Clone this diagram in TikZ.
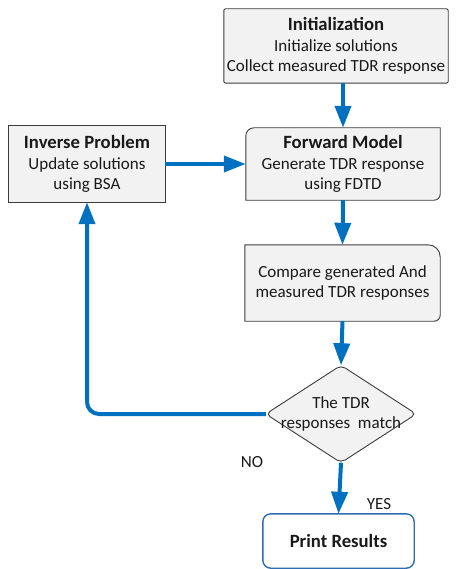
\documentclass[tikz,border=0pt]{standalone}
\usepackage{fontspec}
\setmainfont{Carlito}
\usetikzlibrary{arrows.meta,backgrounds,calc}

\definecolor{boxfill}{HTML}{F2F2F2}
\definecolor{boxline}{HTML}{3B3B3B}
\definecolor{flowblue}{HTML}{0070C0}
\definecolor{endblue}{HTML}{2E6DB4}

\newcommand{\ttlfont}{\fontsize{18.7}{20.5}\selectfont\bfseries}
\newcommand{\bdyfont}{\fontsize{17}{20}\selectfont}

\begin{document}
\begin{tikzpicture}[x=1pt,y=-1pt,
  box/.style={inner sep=0pt, align=center, font=\bdyfont, text=black!90},
  outline/.style={draw=boxline, fill=boxfill, line width=0.9pt},
  flow/.style={draw=flowblue, line width=4pt, -{Triangle[length=22pt,width=16pt]}},
  lbl/.style={font=\bdyfont, inner sep=0pt, text=black!90}
]
\useasboundingbox (0,0) rectangle (455,569);

% process steps
\node[box, minimum width=224pt, minimum height=74pt] (init) at (336,46)
  {{\ttlfont Initialization}\\[1pt]Initialize solutions\\Collect measured TDR response};
\node[box, minimum width=156pt, minimum height=76pt] (inv) at (87,164)
  {{\ttlfont Inverse Problem}\\[1pt]Update solutions\\using BSA};
\node[box, minimum width=194pt, minimum height=72pt] (fwd) at (343,164)
  {{\ttlfont Forward Model}\\[1pt]Generate TDR response\\using FDTD};
\node[box, minimum width=195pt, minimum height=76pt] (cmp) at (342.5,283)
  {Compare generated And\\measured TDR responses};
\node[box, minimum width=150pt, minimum height=97pt] (dia) at (341,414)
  {The TDR\\responses\ \ match};
\node[box, minimum width=151pt, minimum height=54pt] (out) at (338.5,541)
  {\ttlfont Print Results};

% shape outlines behind the texts
\begin{pgfonlayer}{background}
  \path[outline, rounded corners=1.5pt] (init.north west) rectangle (init.south east);
  \path[outline] (inv.north west) rectangle (inv.south east);
  \path[outline] (fwd.south west) -- ([yshift=-8pt]fwd.north west)
    arc[start angle=180,end angle=90,radius=8pt] -- (fwd.north east)
    -- ([yshift=6pt]fwd.south east) arc[start angle=0,end angle=-90,radius=6pt] -- cycle;
  \path[outline] (cmp.south west) -- (cmp.north west) -- ([xshift=-12pt]cmp.north east)
    arc[start angle=90,end angle=0,radius=12pt] -- ([yshift=6pt]cmp.south east)
    arc[start angle=0,end angle=-90,radius=6pt] -- cycle;
  \path[outline, rounded corners=5pt] (dia.north) -- (dia.east) -- (dia.south) -- (dia.west) -- cycle;
  \path[draw=endblue, fill=white, line width=1.4pt, rounded corners=8pt]
    (out.north west) rectangle (out.south east);
\end{pgfonlayer}

% flow connectors
\draw[flow] (init.south -| fwd.north) -- (fwd.north);
\draw[flow] (inv.east) -- (fwd.west);
\draw[flow] (fwd.south) -- (cmp.north);
\draw[flow] (cmp.south) -- (dia.north);
\draw[flow] (dia.south) -- (out.north);
\draw[flow, rounded corners=12pt] (dia.west) -| (inv.south);

% branch labels
\node[lbl] (no) at (252,462) {NO};
\node[lbl] (yes) at (379,504) {YES};
\end{tikzpicture}
\end{document}
